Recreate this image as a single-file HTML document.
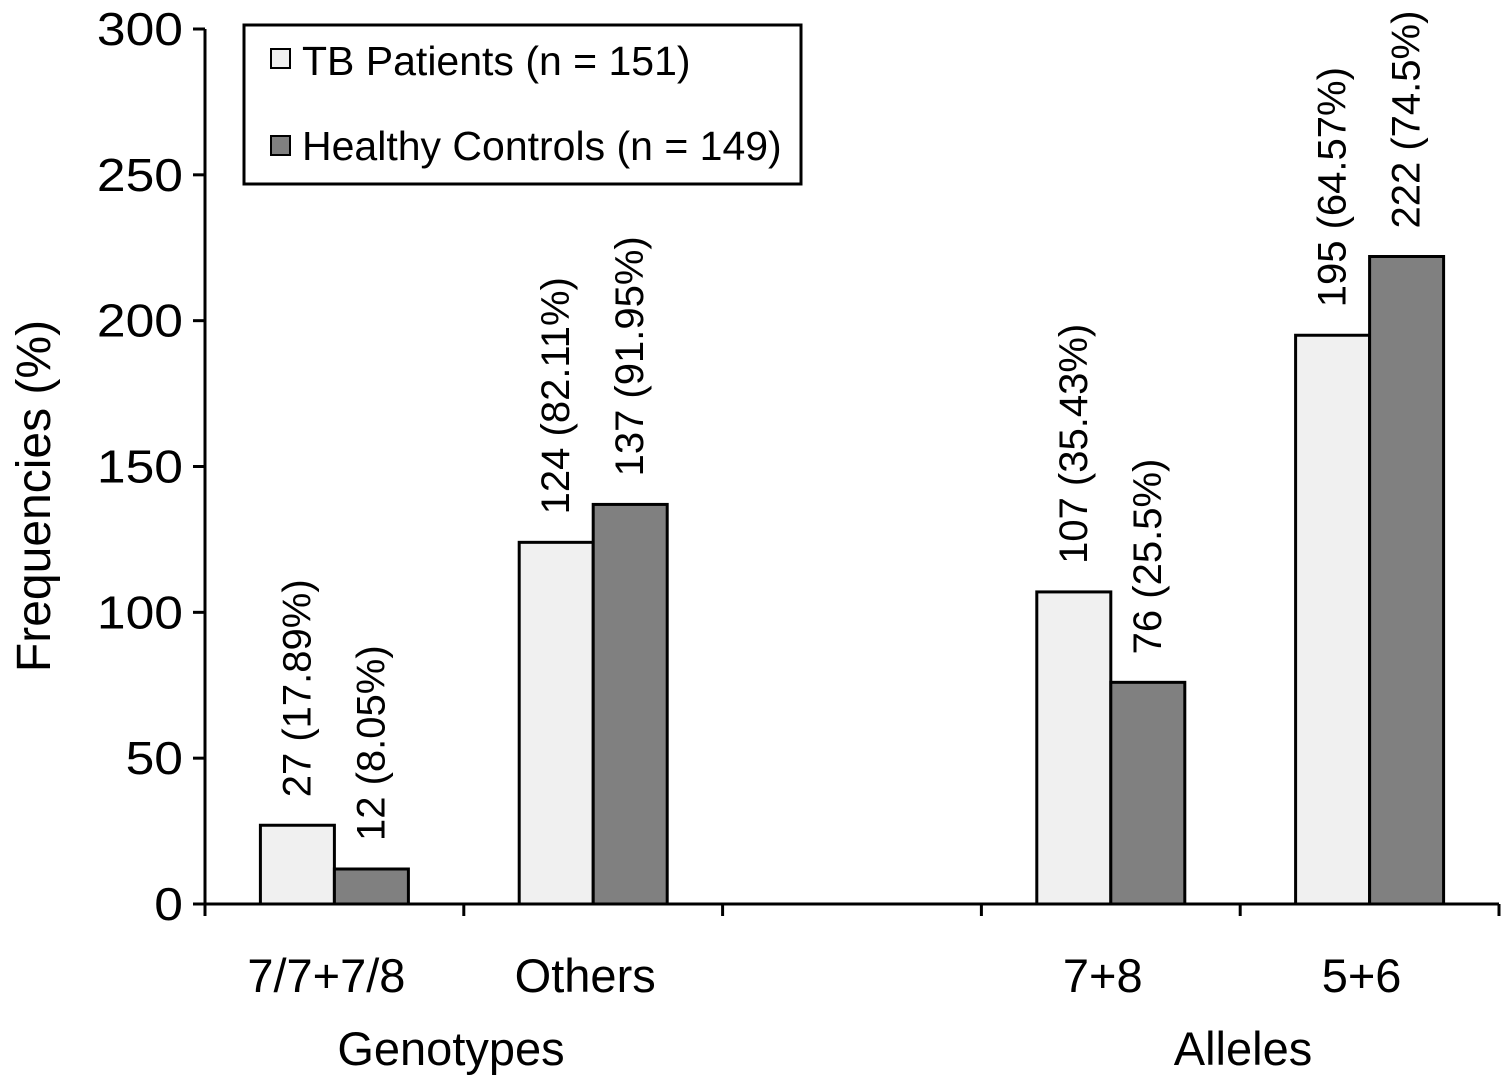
<!DOCTYPE html>
<html><head><meta charset="utf-8"><style>
body{margin:0;background:#fff}
svg text{font-family:"Liberation Sans",Arial,sans-serif;fill:#000}
</style></head><body>
<svg width="1507" height="1076" viewBox="0 0 1507 1076" id="chart">
</svg>
<script>
const categories=["7/7+7/8","Others","","7+8","5+6"];
const tbValues=[27,124,null,107,195];
const hcValues=[12,137,null,76,222];
const tbLabels=["27 (17.89%)","124 (82.11%)","","107 (35.43%)","195 (64.57%)"];
const hcLabels=["12 (8.05%)","137 (91.95%)","","76 (25.5%)","222 (74.5%)"];
const yTicks=[0,50,100,150,200,250,300];

const NS="http://www.w3.org/2000/svg";
const svg=document.getElementById('chart');
const x0=205,x1=1499,y0=904,yTop=29,yMax=300;
const catW=(x1-x0)/categories.length;
const yScale=v=>y0-(v/yMax)*(y0-yTop);
const xCat=i=>x0+i*catW;
function mk(tag,attrs,txt){const e=document.createElementNS(NS,tag);for(const k in attrs)e.setAttribute(k,attrs[k]);if(txt!=null)e.textContent=txt;svg.appendChild(e);return e;}

let ax=mk('line',{x1:x0,y1:yTop,x2:x0,y2:y0,stroke:'#000','stroke-width':3});


yTicks.forEach(t=>{
  const y=yScale(t);
  let l=mk('line',{x1:x0-12,y1:y,x2:x0,y2:y,stroke:'#000','stroke-width':3});
  
  
  let tx=mk('text',{x:x0-22,y:y+16,'text-anchor':'end','font-size':46,'textLength':String(t).length*28.7,'lengthAdjust':'spacingAndGlyphs'},t);
  
  
});
let xa=mk('line',{x1:x0,y1:y0,x2:x1,y2:y0,stroke:'#000','stroke-width':3});


for(let i=0;i<=categories.length;i++){
  let l=mk('line',{x1:xCat(i),y1:y0,x2:xCat(i),y2:y0+12,stroke:'#000','stroke-width':3});
  
  
}
const bw=74;
categories.forEach((c,i)=>{
  const cx=xCat(i)+catW/2;
  if(c){
    let t=mk('text',{x:cx-8,y:992,'text-anchor':'middle','font-size':47},c);
    
    
  }
  [[tbValues,tbLabels,'#f0f0f0',cx-bw,'bar-tb-patients'],[hcValues,hcLabels,'#808080',cx,'bar-healthy-controls']].forEach(([vals,labs,fill,bx,name])=>{
    const v=vals[i]; if(v==null)return;
    const y=yScale(v);
    let r=mk('rect',{x:bx,y:y,width:bw,height:y0-y,fill:fill,stroke:'#000','stroke-width':3});
    
    
    const lx=bx+bw/2+13,ly=y-28;
    let t=mk('text',{x:lx,y:ly,'font-size':40,transform:`rotate(-90 ${lx} ${ly})`},labs[i]);
    
    
  });
});
let g1=mk('text',{x:451,y:1065,'text-anchor':'middle','font-size':47},'Genotypes');


let g2=mk('text',{x:1243,y:1065,'text-anchor':'middle','font-size':47},'Alleles');


let yt=mk('text',{x:50,y:496,'text-anchor':'middle','font-size':48,transform:'rotate(-90 50 496)'},'Frequencies (%)');


let lb=mk('rect',{x:244,y:25,width:557,height:159,fill:'#fff',stroke:'#000','stroke-width':3});


let s1=mk('rect',{x:271,y:49,width:19,height:19,fill:'#f0f0f0',stroke:'#000','stroke-width':2});


let t1=mk('text',{x:302,y:75,'font-size':41},'TB Patients (n = 151)');


let s2=mk('rect',{x:271,y:136,width:19,height:19,fill:'#808080',stroke:'#000','stroke-width':2});


let t2=mk('text',{x:302,y:160,'font-size':41},'Healthy Controls (n = 149)');


</script>
</body></html>
